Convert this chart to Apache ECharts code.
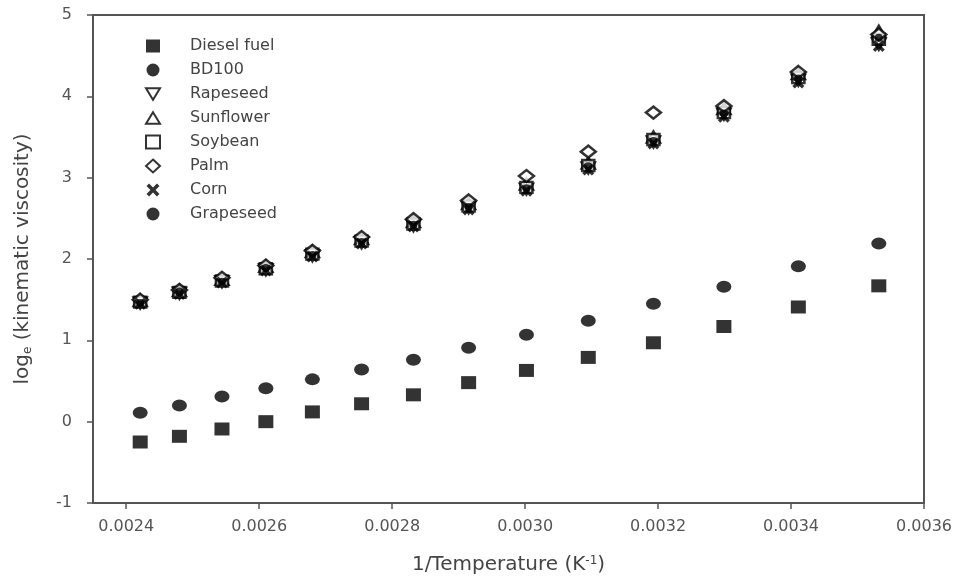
<!DOCTYPE html>
<html>
<head>
<meta charset="utf-8">
<script src="https://cdn.jsdelivr.net/npm/echarts@6/dist/echarts.min.js"></script>
<style>
  html,body{margin:0;padding:0;background:#fff;}
  #chart{width:965px;height:580px;}
</style>
</head>
<body>
<div id="chart"></div>
<script>
// 1/T values (K^-1)
var invT = [0.002421, 0.002480, 0.002544, 0.002610, 0.002680, 0.002754, 0.002832,
            0.002915, 0.003002, 0.003095, 0.003193, 0.003299, 0.003411, 0.003532];

var diesel    = [-0.25, -0.18, -0.09, 0.00, 0.12, 0.22, 0.33, 0.48, 0.63, 0.79, 0.97, 1.17, 1.41, 1.67];
var bd100     = [0.11, 0.20, 0.31, 0.41, 0.52, 0.64, 0.76, 0.91, 1.07, 1.24, 1.45, 1.66, 1.91, 2.19];
var rapeseed  = [1.46, 1.58, 1.72, 1.87, 2.04, 2.20, 2.41, 2.63, 2.86, 3.12, 3.44, 3.78, 4.20, 4.64];
var sunflower = [1.49, 1.61, 1.75, 1.91, 2.09, 2.25, 2.46, 2.68, 2.92, 3.18, 3.50, 3.85, 4.28, 4.80];
var soybean   = [1.47, 1.59, 1.73, 1.88, 2.06, 2.22, 2.43, 2.65, 2.88, 3.15, 3.47, 3.80, 4.23, 4.70];
var palm      = [1.50, 1.62, 1.77, 1.92, 2.10, 2.27, 2.49, 2.72, 3.02, 3.32, 3.80, 3.88, 4.30, 4.76];
var corn      = [1.45, 1.57, 1.71, 1.86, 2.03, 2.19, 2.40, 2.61, 2.84, 3.10, 3.42, 3.75, 4.17, 4.62];
var grapeseed = [1.46, 1.60, 1.72, 1.89, 2.05, 2.21, 2.42, 2.64, 2.87, 3.14, 3.45, 3.79, 4.22, 4.72];

var xTicks = [0.0024, 0.0026, 0.0028, 0.0030, 0.0032, 0.0034, 0.0036];

// marker shapes
var downTri = 'path://M0,0 L12,0 L6,10 Z';
var upTri = 'path://M6,0 L12,10 L0,10 Z';
var cross = 'path://M0,2 L2,0 L5,3 L8,0 L10,2 L7,5 L10,8 L8,10 L5,7 L2,10 L0,8 L3,5 Z';

function pts(ys) {
  return ys.map(function (y, i) { return [invT[i], y]; });
}

var filled = { color: '#000' };
var hollow = { color: '#fff', borderColor: '#000', borderWidth: 2.5 };

var dom = document.getElementById('chart');
var myChart = echarts.init(dom);
myChart.setOption({
  animation: false,
  textStyle: { fontFamily: 'DejaVu Sans' },
  grid: {
    left: 93, right: 41, top: 15, bottom: 77,
    show: true,
    borderColor: '#555',
    borderWidth: 2
  },
  legend: {
    orient: 'vertical',
    left: 140,
    top: 33,
    itemWidth: 14,
    itemHeight: 13,
    itemGap: 8,
    textStyle: { fontSize: 16, color: '#444', padding: [0, 0, 0, 25] },
    data: [
      { name: 'Diesel fuel', icon: 'rect' },
      { name: 'BD100', icon: 'circle' },
      { name: 'Rapeseed', icon: downTri },
      { name: 'Sunflower', icon: upTri },
      { name: 'Soybean', icon: 'rect' },
      { name: 'Palm', icon: 'diamond' },
      { name: 'Corn', icon: cross },
      { name: 'Grapeseed', icon: 'circle' }
    ]
  },
  xAxis: {
    type: 'value',
    min: 0.00235,
    max: 0.0036,
    name: '1/Temperature (K{sup|-1})',
    nameLocation: 'middle',
    nameGap: 52,
    nameTextStyle: {
      fontSize: 20, color: '#444',
      rich: { sup: { fontSize: 12, color: '#444', verticalAlign: 'top', padding: [0, 0, 8, 0] } }
    },
    splitLine: { show: false },
    axisLine: { onZero: false, lineStyle: { color: '#555', width: 2 } },
    axisTick: { inside: false, length: 6, lineStyle: { color: '#555', width: 1.5 }, customValues: xTicks },
    axisLabel: {
      customValues: xTicks,
      margin: 16,
      fontSize: 16,
      color: '#555',
      formatter: function (v) { return v.toFixed(4); }
    }
  },
  yAxis: {
    type: 'value',
    min: -1,
    max: 5,
    interval: 1,
    name: 'log{sub|e} (kinematic viscosity)',
    nameLocation: 'middle',
    nameGap: 59,
    nameTextStyle: {
      fontSize: 20, color: '#444',
      rich: { sub: { fontSize: 12, color: '#444', padding: [10, 0, 0, 0] } }
    },
    splitLine: { show: false },
    axisLine: { onZero: false, lineStyle: { color: '#555', width: 2 } },
    axisTick: { inside: false, length: 6, lineStyle: { color: '#555', width: 1.5 } },
    axisLabel: { margin: 21, fontSize: 16, color: '#555' }
  },
  series: [
    { name: 'Diesel fuel', type: 'scatter', symbol: 'rect', symbolSize: [15, 13], itemStyle: filled, data: pts(diesel) },
    { name: 'BD100', type: 'scatter', symbol: 'circle', symbolSize: [15, 12], itemStyle: filled, data: pts(bd100) },
    { name: 'Rapeseed', type: 'scatter', symbol: downTri, symbolSize: [13, 11], itemStyle: hollow, data: pts(rapeseed) },
    { name: 'Sunflower', type: 'scatter', symbol: upTri, symbolSize: [13, 11], itemStyle: hollow, data: pts(sunflower) },
    { name: 'Soybean', type: 'scatter', symbol: 'rect', symbolSize: [12, 11], itemStyle: hollow, data: pts(soybean) },
    { name: 'Palm', type: 'scatter', symbol: 'diamond', symbolSize: [15, 12], itemStyle: hollow, data: pts(palm) },
    { name: 'Corn', type: 'scatter', symbol: cross, symbolSize: [12, 12], itemStyle: filled, data: pts(corn) },
    { name: 'Grapeseed', type: 'scatter', symbol: 'circle', symbolSize: 8, itemStyle: filled, data: pts(grapeseed) }
  ]
});
</script>
</body>
</html>
